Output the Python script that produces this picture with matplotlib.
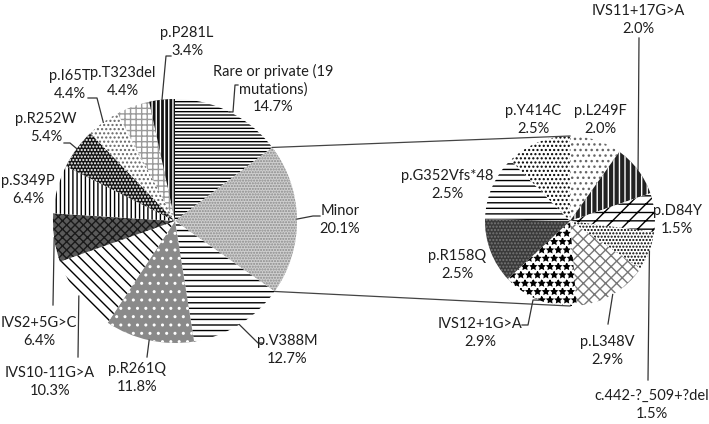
import numpy as np
import matplotlib
matplotlib.use('Agg')
import matplotlib.pyplot as plt

plt.rcParams['font.family'] = ['Lato', 'DejaVu Sans']
plt.rcParams['hatch.linewidth'] = 1.0

# main pie (clockwise from 12 o'clock)
main_labels = ['Rare or private (19\nmutations)', 'Minor', 'p.V388M', 'p.R261Q',
               'IVS10-11G>A', 'IVS2+5G>C', 'p.S349P', 'p.R252W', 'p.I65T',
               'p.T323del', 'p.P281L']
main_values = [14.7, 20.1, 12.7, 11.8, 10.3, 6.4, 6.4, 5.4, 4.4, 4.4, 3.4]

# secondary pie = breakdown of "Minor"
minor_labels = ['p.L249F', 'IVS11+17G>A', 'p.D84Y', 'c.442-?_509+?del', 'p.L348V',
                'IVS12+1G>A', 'p.R158Q', 'p.G352Vfs*48', 'p.Y414C']
minor_values = [2.0, 2.0, 1.5, 1.5, 2.9, 2.9, 2.5, 2.5, 2.5]

# (facecolor, hatch, hatch colour)
main_style = [('white', '-----', 'black'),
              ('#cfcfcf', '......', '#8a8a8a'),
              ('white', '---', 'black'),
              ('#8a8a8a', '..', 'white'),
              ('white', '\\\\\\', 'black'),
              ('#5a5a5a', 'xxxx', '#1a1a1a'),
              ('white', '||||', 'black'),
              ('#151515', '.....', 'white'),
              ('white', '....', '#666666'),
              ('white', '+++', '#9a9a9a'),
              ('#111111', '||||', 'white')]
minor_style = [('white', '...', '#666666'),
               ('#222222', '|||', 'white'),
               ('white', '//--', 'black'),
               ('white', '.....', 'black'),
               ('white', 'xxx', '#777777'),
               ('white', '**', 'black'),
               ('#3a3a3a', '.....', '#777777'),
               ('white', '---', 'black'),
               ('white', '....', 'black')]

W, H = 709, 424
fig = plt.figure(figsize=(W / 100, H / 100), dpi=100)
ax = fig.add_axes([0, 0, 1, 1])

c1, r1 = (175, H - 221), 122
c2, r2 = (570, H - 221), 85


def draw_pie(values, center, radius, styles):
    wedges, _ = ax.pie(values, center=center, radius=radius, startangle=90,
                       counterclock=False, wedgeprops=dict(linewidth=0))
    for w, (fc, h, hc) in zip(wedges, styles):
        w.set_facecolor(fc)
        w.set_edgecolor(hc)
        w.set_hatch(h)
        w.set_linewidth(0)
    return wedges


w1 = draw_pie(main_values, c1, r1, main_style)
w2 = draw_pie(minor_values, c2, r2, minor_style)

ax.set_xlim(0, W)
ax.set_ylim(0, H)
ax.set_aspect('equal')
ax.axis('off')


def edge_point(w, ang=None):
    if ang is None:
        ang = (w.theta1 + w.theta2) / 2
    a = np.deg2rad(ang)
    return w.center[0] + w.r * np.cos(a), w.center[1] + w.r * np.sin(a)


# connector lines between the pies
mw = w1[1]
top = edge_point(mw, mw.theta2)
bot = edge_point(mw, mw.theta1)
ax.plot([top[0], c2[0]], [top[1], c2[1] + r2], color='#444444', lw=0.9)
ax.plot([bot[0], c2[0]], [bot[1], c2[1] - r2], color='#444444', lw=0.9)

fs = 10.5
lc = '#333333'


def label(text, x, y, wedge=None, path=None):
    ax.text(x, H - y, text, ha='center', va='center', fontsize=fs,
            color='#1e1e1e', linespacing=1.3)
    if wedge is not None:
        ex, ey = edge_point(wedge)
        xs = [ex] + [p[0] for p in path]
        ys = [ey] + [H - p[1] for p in path]
        ax.plot(xs, ys, color=lc, lw=0.9)


# main pie labels
label(main_labels[0] + '\n14.7%', 273, 89, w1[0], [(233, 112), (235, 85), (238, 85)])
label('Minor\n20.1%', 340, 220, w1[1], [(313, 216), (320, 216)])
label('p.V388M\n12.7%', 287, 350, w1[2], [(258, 343), (263, 343)])
label('p.R261Q\n11.8%', 137, 378, w1[3], [(147, 357)])
label('IVS10-11G>A\n10.3%', 50, 382, w1[4], [(78, 357)])
label('IVS2+5G>C\n6.4%', 39, 332, w1[5], [(53, 305)])
label('p.S349P\n6.4%', 28, 190)
label('p.R252W\n5.4%', 46, 128, w1[7], [(70, 143), (64, 143)])
label('p.I65T\n4.4%', 70, 85, w1[8], [(97, 98), (88, 98)])
label('p.T323del\n4.4%', 123, 82)
label('p.P281L\n3.4%', 187, 42, w1[10], [(166, 56), (171, 56)])

# secondary pie labels
label('p.L249F\n2.0%', 600, 120)
label('IVS11+17G>A\n2.0%', 638, 20, w2[1], [(639, 38)])
label('p.D84Y\n1.5%', 677, 220)
label('c.442-?_509+?del\n1.5%', 652, 405, w2[3], [(648, 380)])
label('p.L348V\n2.9%', 607, 351, w2[4], [(608, 324)])
label('IVS12+1G>A\n2.9%', 480, 333, w2[5], [(533, 300), (528, 325), (522, 325)])
label('p.R158Q\n2.5%', 457, 265)
label('p.G352Vfs*48\n2.5%', 447, 185)
label('p.Y414C\n2.5%', 533, 120)

fig.savefig('out.png', dpi=100, facecolor='white')
